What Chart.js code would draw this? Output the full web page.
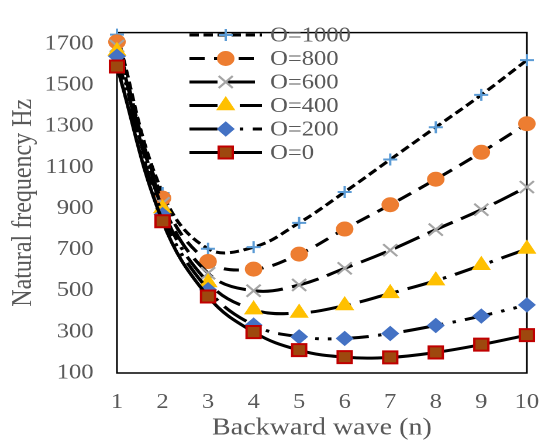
<!DOCTYPE html>
<html>
<head>
<meta charset="utf-8">
<script src="https://cdn.jsdelivr.net/npm/chart.js@4/dist/chart.umd.min.js"></script>
<style>
  html, body { margin: 0; padding: 0; background: #fff; overflow: hidden; }
  #wrap { width: 478px; height: 441px; transform: scaleX(1.1695); transform-origin: 0 0; }
</style>
</head>
<body>
<div id="wrap"><canvas id="c" width="478" height="441"></canvas></div>
<script>
// ---- data ----
const nValues = [1, 2, 3, 4, 5, 6, 7, 8, 9, 10];
const o1000 = [1745, 975, 704, 712, 830, 980, 1138, 1295, 1452, 1621];
const o800  = [1710, 950, 642, 605, 678, 800, 918, 1042, 1173, 1312];
const o600  = [1690, 925, 585, 500, 528, 609, 697, 797, 894, 1004];
const o400  = [1665, 900, 540, 408, 392, 428, 487, 549, 624, 703];
const o200  = [1640, 870, 505, 333, 276, 268, 292, 331, 377, 431];
const o0    = [1590, 838, 472, 299, 211, 177, 176, 200, 238, 284];
const seriesLabels = ['O=1000', 'O=800', 'O=600', 'O=400', 'O=200', 'O=0'];
const yTickValues = [100, 300, 500, 700, 900, 1100, 1300, 1500, 1700];
const xTitle = 'Backward wave (n)';
const yTitle = 'Natural frequency Hz';

// ---- styles ----
const seriesData = [o1000, o800, o600, o400, o200, o0];
const markerStyles = ['cross', 'circle', 'crossRot', 'triangle', 'rectRot', 'rect'];
const markerFill = ['#5B9BD5', '#ED7D31', '#A5A5A5', '#FFC000', '#4472C4', '#9E480E'];
const markerBorder = ['#5B9BD5', '#ED7D31', '#A5A5A5', '#FFC000', '#4472C4', '#C00000'];
const markerRadius = [6, 7, 8.5, 8.5, 7, 8.5];
const markerBorderWidth = [2, 1, 2, 1, 1, 2];
const lineDashes = [[8, 4], [13, 8], [24, 8], [24, 8, 3, 8], [24, 8, 3, 8, 3, 8], []];
const textColor = '#595959';
const fontFamily = "'Liberation Serif', 'Times New Roman', serif";

Chart.defaults.font.family = fontFamily;
Chart.defaults.color = textColor;

const datasets = seriesData.map((arr, i) => ({
  label: seriesLabels[i],
  data: nValues.map((n, k) => ({ x: n, y: arr[k] })),
  borderColor: '#000',
  borderWidth: 3,
  borderDash: lineDashes[i],
  tension: 0.4,
  fill: false,
  clip: false,
  pointStyle: markerStyles[i],
  pointRadius: markerRadius[i],
  pointBackgroundColor: markerFill[i],
  pointBorderColor: markerBorder[i],
  pointBorderWidth: markerBorderWidth[i],
  order: seriesData.length - 1 - i
}));

const frame = {
  id: 'frame',
  beforeDatasetsDraw(chart) {
    const { ctx, chartArea: a } = chart;
    ctx.save();
    ctx.strokeStyle = '#000';
    ctx.lineWidth = 1.5;
    ctx.strokeRect(a.left, a.top, a.right - a.left, a.bottom - a.top);
    ctx.restore();
  }
};

const customLegend = {
  id: 'customLegend',
  afterDraw(chart) {
    const ctx = chart.ctx;
    const x0 = 162, x1 = 224, xm = 193, xt = 231;
    chart.data.datasets.forEach((ds, i) => {
      const y = 35 + i * 23.5;
      ctx.save();
      ctx.strokeStyle = '#000';
      ctx.lineWidth = 3;
      ctx.setLineDash(ds.borderDash);
      ctx.beginPath();
      ctx.moveTo(x0, y);
      ctx.lineTo(x1, y);
      ctx.stroke();
      ctx.setLineDash([]);
      ctx.fillStyle = ds.pointBackgroundColor;
      ctx.strokeStyle = ds.pointBorderColor;
      ctx.lineWidth = ds.pointBorderWidth;
      Chart.helpers.drawPoint(ctx, {
        pointStyle: ds.pointStyle, radius: ds.pointRadius,
        borderWidth: ds.pointBorderWidth, rotation: 0
      }, xm, y);
      ctx.fillStyle = textColor;
      ctx.font = '21px ' + fontFamily;
      ctx.textAlign = 'left';
      ctx.textBaseline = 'middle';
      ctx.fillText(ds.label, xt, y + 1);
      ctx.restore();
    });
  }
};

new Chart(document.getElementById('c'), {
  type: 'line',
  data: { datasets },
  plugins: [frame, customLegend],
  options: {
    responsive: false,
    animation: false,
    devicePixelRatio: 2,
    layout: { padding: { top: 16, right: 10.5, left: 0, bottom: 0 } },
    plugins: { legend: { display: false }, tooltip: { enabled: false } },
    scales: {
      x: {
        type: 'linear', min: 1, max: 10,
        grid: { display: false, drawTicks: false },
        border: { display: false },
        ticks: { stepSize: 1, autoSkip: false, maxRotation: 0, padding: 17, color: textColor, font: { size: 21 },
                 callback: v => String(v) },
        title: { display: true, text: xTitle, color: textColor, font: { size: 24, lineHeight: 1.0 }, padding: { top: 0, bottom: 1 } },
        afterFit(s) { s.height = 68; }
      },
      y: {
        type: 'linear', min: 100, max: 1755,
        grid: { display: false, drawTicks: false },
        border: { display: false },
        ticks: { stepSize: 200, autoSkip: false, padding: 20, color: textColor, font: { size: 21 },
                 callback: v => String(v) },
        afterBuildTicks(s) { s.ticks = yTickValues.map(v => ({ value: v })); },
        title: { display: true, text: yTitle, color: textColor, font: { size: 24, lineHeight: 1.0 }, padding: { top: 8, bottom: 0 } },
        afterFit(s) { s.width = 100; }
      }
    }
  }
});
</script>
</body>
</html>
